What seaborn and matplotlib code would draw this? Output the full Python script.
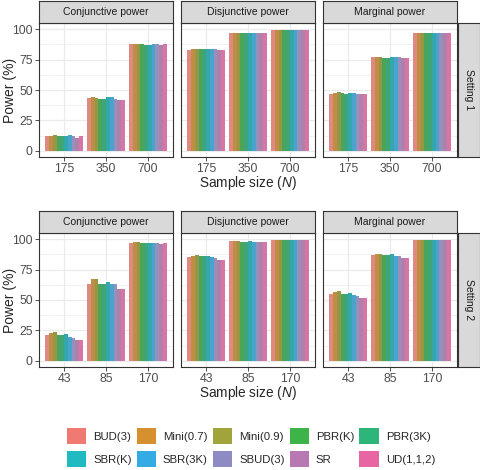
import numpy as np
import pandas as pd
import matplotlib
matplotlib.use("Agg")
import matplotlib.pyplot as plt
from matplotlib.patches import Patch
from matplotlib.ticker import MultipleLocator
import seaborn as sns

METHODS = ["BUD(3)", "Mini(0.7)", "Mini(0.9)", "PBR(K)", "PBR(3K)",
           "SBR(K)", "SBR(3K)", "SBUD(3)", "SR", "UD(1,1,2)"]
COLORS = ["#F07A72", "#D6912E", "#A0A43A", "#3CB44A", "#2EB57A",
          "#1FBBC0", "#34ABE2", "#8E8BC4", "#B878B4", "#E865A4"]
POWER_TYPES = ["Conjunctive power", "Disjunctive power", "Marginal power"]
SETTINGS = ["Setting 1", "Setting 2"]
SIZES_S1 = ["175", "350", "700"]
SIZES_S2 = ["43", "85", "170"]

# Setting 1 -- one list per sample size, values in METHODS order
s1_conj_175 = [12.0, 12.5, 13.0, 12.5, 12.0, 12.5, 13.0, 12.0, 11.0, 12.0]
s1_conj_350 = [43.5, 44.0, 43.5, 43.0, 43.0, 44.0, 44.0, 43.0, 42.0, 42.0]
s1_conj_700 = [87.5, 88.0, 87.5, 88.0, 87.0, 87.0, 88.0, 87.5, 87.0, 87.5]
s1_disj_175 = [83.0, 84.0, 84.0, 84.0, 83.5, 84.0, 84.0, 83.5, 83.0, 83.0]
s1_disj_350 = [97.0, 97.0, 97.0, 97.0, 97.0, 97.0, 97.0, 97.0, 96.5, 96.5]
s1_disj_700 = [99.5, 99.5, 99.5, 99.5, 99.5, 99.5, 99.5, 99.5, 99.5, 99.5]
s1_marg_175 = [47.0, 47.5, 48.5, 47.5, 47.0, 47.5, 47.5, 47.0, 47.0, 47.0]
s1_marg_350 = [77.0, 77.0, 77.0, 76.5, 76.5, 77.0, 77.5, 77.0, 76.5, 76.5]
s1_marg_700 = [97.0, 97.0, 97.0, 97.0, 97.0, 97.0, 97.0, 97.0, 97.0, 97.0]

# Setting 2
s2_conj_43 = [21.0, 22.5, 24.0, 21.5, 21.0, 22.0, 20.0, 18.5, 17.0, 17.0]
s2_conj_85 = [63.5, 67.0, 67.5, 63.0, 63.5, 65.0, 63.0, 63.0, 59.0, 59.0]
s2_conj_170 = [97.0, 97.5, 97.5, 97.0, 97.0, 97.0, 97.0, 97.0, 96.0, 96.5]
s2_disj_43 = [85.5, 86.5, 87.0, 86.0, 86.0, 86.0, 85.0, 84.5, 83.0, 83.0]
s2_disj_85 = [98.5, 98.5, 98.5, 98.0, 98.0, 98.5, 98.0, 98.0, 97.5, 97.5]
s2_disj_170 = [99.5, 99.5, 99.5, 99.5, 99.5, 99.5, 99.5, 99.5, 99.5, 99.5]
s2_marg_43 = [55.0, 56.5, 57.5, 55.0, 55.0, 56.0, 54.0, 53.0, 51.5, 51.5]
s2_marg_85 = [87.0, 88.0, 88.0, 87.0, 87.0, 87.5, 86.5, 86.5, 84.5, 84.5]
s2_marg_170 = [99.0, 99.0, 99.0, 99.0, 99.0, 99.0, 99.0, 99.0, 99.0, 99.0]

table = {
    ("Setting 1", "Conjunctive power"): [s1_conj_175, s1_conj_350, s1_conj_700],
    ("Setting 1", "Disjunctive power"): [s1_disj_175, s1_disj_350, s1_disj_700],
    ("Setting 1", "Marginal power"): [s1_marg_175, s1_marg_350, s1_marg_700],
    ("Setting 2", "Conjunctive power"): [s2_conj_43, s2_conj_85, s2_conj_170],
    ("Setting 2", "Disjunctive power"): [s2_disj_43, s2_disj_85, s2_disj_170],
    ("Setting 2", "Marginal power"): [s2_marg_43, s2_marg_85, s2_marg_170],
}
sizes = {"Setting 1": SIZES_S1, "Setting 2": SIZES_S2}

rows = []
for (setting, ptype), groups in table.items():
    for n, vals in zip(sizes[setting], groups):
        for m, v in zip(METHODS, vals):
            rows.append({"setting": setting, "type": ptype, "N": n,
                         "method": m, "power": v})
df = pd.DataFrame(rows)

sns.set_theme(style="white")
plt.rcParams["font.family"] = ["Liberation Sans", "DejaVu Sans"]
plt.rcParams["mathtext.fontset"] = "custom"
plt.rcParams["mathtext.rm"] = "Liberation Sans"
plt.rcParams["mathtext.it"] = "Liberation Sans:italic"

W, H = 480, 470
fig = plt.figure(figsize=(W / 100, H / 100), dpi=100)

def box(x0, y0, w, h):
    return [x0 / W, 1 - (y0 + h) / H, w / W, h / H]

DARK = "#333333"
panel_x = [39, 181, 323]
panel_w = 134
row_y = {"Setting 1": 23, "Setting 2": 233}
panel_h = 134
strip_h = 22

for setting in SETTINGS:
    y0 = row_y[setting]
    for j, ptype in enumerate(POWER_TYPES):
        ax = fig.add_axes(box(panel_x[j], y0, panel_w, panel_h))
        sub = df[(df.setting == setting) & (df.type == ptype)]
        sns.barplot(data=sub, x="N", y="power", hue="method",
                    order=sizes[setting], hue_order=METHODS,
                    palette=COLORS, width=0.9, linewidth=0,
                    errorbar=None, legend=False, ax=ax, zorder=3)
        ax.set_xlim(-0.6, 2.6)
        ax.set_ylim(-5, 105)
        ax.yaxis.set_major_locator(MultipleLocator(25))
        ax.yaxis.set_minor_locator(MultipleLocator(12.5))
        ax.grid(True, which="major", color="#EBEBEB", lw=0.9, zorder=0)
        ax.grid(True, which="minor", axis="y", color="#EBEBEB", lw=0.45, zorder=0)
        ax.set_axisbelow(True)
        for sp in ax.spines.values():
            sp.set_color(DARK)
            sp.set_linewidth(0.8)
        ax.set_xlabel("")
        ax.set_ylabel("")
        ax.tick_params(axis="both", which="major", length=3, width=0.6,
                       color=DARK, labelsize=8.8, labelcolor="#4D4D4D", pad=1.5,
                       bottom=True, left=(j == 0))
        ax.tick_params(axis="y", which="minor", length=0)
        if j != 0:
            ax.set_yticklabels([])

        # top strip
        sax = fig.add_axes(box(panel_x[j], y0 - strip_h, panel_w, strip_h))
        sax.set_facecolor("#D9D9D9")
        sax.set_xticks([])
        sax.set_yticks([])
        for sp in sax.spines.values():
            sp.set_color(DARK)
            sp.set_linewidth(0.8)
        sax.text(0.5, 0.5, ptype, ha="center", va="center", fontsize=7.5,
                 color="#1A1A1A", transform=sax.transAxes)

    # right strip
    rax = fig.add_axes(box(458, y0, 22, panel_h))
    rax.set_facecolor("#D9D9D9")
    rax.set_xticks([])
    rax.set_yticks([])
    for sp in rax.spines.values():
        sp.set_color(DARK)
        sp.set_linewidth(0.8)
    rax.text(0.5, 0.5, setting, ha="center", va="center", fontsize=7.5,
             rotation=-90, color="#1A1A1A", transform=rax.transAxes)

    # axis titles
    fig.text(10 / W, 1 - (y0 + panel_h / 2) / H, "Power (%)", rotation=90,
             ha="center", va="center", fontsize=10)
    fig.text((panel_x[1] + panel_w / 2) / W, 1 - (y0 + panel_h + 26) / H,
             "Sample size ($\\it{N}$)", ha="center", va="center", fontsize=9.8)

# legend, filled row by row
handles = [Patch(facecolor=c, edgecolor="none") for c in COLORS]
order = [0, 5, 1, 6, 2, 7, 3, 8, 4, 9]
fig.legend([handles[i] for i in order], [METHODS[i] for i in order],
           ncol=5, loc="center", bbox_to_anchor=(251 / W, 1 - 447.5 / H),
           frameon=False, fontsize=8.2, handlelength=1.7, handleheight=1.7,
           handletextpad=0.6, columnspacing=0.45, labelspacing=0.7,
           borderaxespad=0)

fig.savefig("out.png", dpi=100)
